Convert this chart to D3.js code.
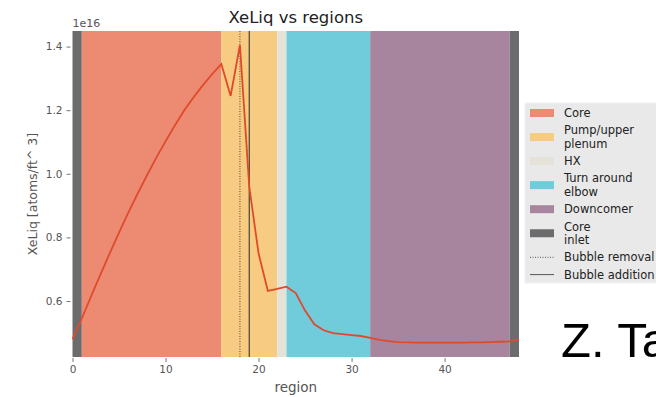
<!DOCTYPE html>
<html>
<head>
<meta charset="utf-8">
<script src="https://cdn.jsdelivr.net/npm/d3@7"></script>
<style>
  body { margin: 0; background: #fff; }
  svg { display: block; }
  text { font-family: "DejaVu Sans", sans-serif; }
</style>
</head>
<body>
<svg></svg>
<script>
// data (XeLiq in units of 1e16 atoms/ft^3)
var regionIdx = d3.range(0, 49)
var xeliq = [0.480, 0.545, 0.615, 0.683, 0.750, 0.815, 0.878, 0.938, 0.995, 1.050,
             1.102, 1.152, 1.199, 1.240, 1.278, 1.313, 1.345, 1.245, 1.405, 0.960,
             0.750, 0.632, 0.638, 0.645, 0.625, 0.570, 0.527, 0.508, 0.499, 0.496,
             0.493, 0.490, 0.484, 0.478, 0.474, 0.471, 0.470, 0.469, 0.469, 0.469,
             0.469, 0.469, 0.469, 0.470, 0.470, 0.471, 0.472, 0.473, 0.479]

var bandStart = [0, 1, 16, 22, 23, 32, 47]
var bandEnd   = [1, 16, 22, 23, 32, 47, 48]
var bandType  = ["Core inlet", "Core", "Pump/upper plenum", "HX", "Turn around elbow", "Downcomer", "Core inlet"]

var legendTypes = ["Core", "Pump/upper plenum", "HX", "Turn around elbow", "Downcomer", "Core inlet"]
var legendLabels = [["Core"], ["Pump/upper", "plenum"], ["HX"], ["Turn around", "elbow"], ["Downcomer"], ["Core", "inlet"]]

var bubbleRemoval = 18
var bubbleAddition = 19

var xTicks = [0, 10, 20, 30, 40]
var yTicks = [0.6, 0.8, 1.0, 1.2, 1.4]

var screen = {width: 656, height: 397}
var plot = {left: 72.5, right: 519, top: 31, bottom: 357}

var color = d3.scaleOrdinal()
  .domain(legendTypes)
  .range(["#ec8a72", "#f7cb82", "#e5e2d8", "#70cbda", "#a8859f", "#6c6c6e"])

var svg = d3.select("svg")
  .attr("width", screen.width)
  .attr("height", screen.height)

var xScale = d3.scaleLinear().domain([0, 48]).range([plot.left, plot.right])
var yScale = d3.scaleLinear().domain([0.424, 1.449]).range([plot.bottom, plot.top])

// region bands
svg.append("g").selectAll("rect")
  .data(bandType)
  .enter().append("rect")
  .attr("x", function(d, i) { return xScale(bandStart[i]) })
  .attr("width", function(d, i) { return xScale(bandEnd[i]) - xScale(bandStart[i]) })
  .attr("y", plot.top)
  .attr("height", plot.bottom - plot.top)
  .attr("fill", function(d) { return color(d) })

// bubble lines
svg.append("line")
  .attr("x1", xScale(bubbleRemoval)).attr("x2", xScale(bubbleRemoval))
  .attr("y1", plot.top).attr("y2", plot.bottom)
  .attr("stroke", "#4a4a3a").attr("stroke-width", 1)
  .attr("stroke-dasharray", "1,1.5")
svg.append("line")
  .attr("x1", xScale(bubbleAddition)).attr("x2", xScale(bubbleAddition))
  .attr("y1", plot.top).attr("y2", plot.bottom)
  .attr("stroke", "#3a3a30").attr("stroke-width", 1.1)

// data line
var line = d3.line()
  .x(function(d, i) { return xScale(regionIdx[i]) })
  .y(function(d) { return yScale(d) })
svg.append("path")
  .datum(xeliq)
  .attr("d", line)
  .attr("fill", "none")
  .attr("stroke", "#e04a2c")
  .attr("stroke-width", 1.8)

// axes
var xAxis = d3.axisBottom(xScale).tickValues(xTicks).tickFormat(d3.format("d")).tickSize(4).tickPadding(4)
var yAxis = d3.axisLeft(yScale).tickValues(yTicks).tickFormat(d3.format(".1f")).tickSize(4).tickPadding(4)

var gx = svg.append("g")
  .attr("transform", "translate(0," + plot.bottom + ")")
  .call(xAxis)
var gy = svg.append("g")
  .attr("transform", "translate(" + (plot.left - 2) + ",0)")
  .call(yAxis)
gx.attr("transform", "translate(0," + (plot.bottom + 1) + ")")
;[gx, gy].forEach(function(g) {
  g.select(".domain").remove()
  g.selectAll(".tick line").attr("stroke", "#777")
  g.selectAll(".tick text").attr("fill", "#555").style("font-size", "10.5px").style("font-family", "DejaVu Sans")
})

// titles
svg.append("text")
  .attr("x", (plot.left + plot.right) / 2).attr("y", 23)
  .attr("text-anchor", "middle")
  .style("font-size", "16.5px").attr("fill", "#222")
  .text("XeLiq vs regions")
svg.append("text")
  .attr("x", plot.left).attr("y", 27)
  .style("font-size", "11px").attr("fill", "#555")
  .text("1e16")
svg.append("text")
  .attr("x", (plot.left + plot.right) / 2).attr("y", 392)
  .attr("text-anchor", "middle")
  .style("font-size", "13.5px").attr("fill", "#555")
  .text("region")
svg.append("text")
  .attr("transform", "translate(37," + ((plot.top + plot.bottom) / 2) + ") rotate(-90)")
  .attr("text-anchor", "middle")
  .style("font-size", "12.5px").attr("fill", "#555")
  .text("XeLiq [atoms/ft^ 3]")

// legend
var legend = svg.append("g")
legend.append("rect")
  .attr("x", 525).attr("y", 103).attr("width", 140).attr("height", 180)
  .attr("fill", "#e9e9e9").attr("stroke", "#f2f2f2")

var lineH = 13.5, gap = 3.8
var yy = 113
var items = legendLabels.map(function(l, i) { return {lines: l, type: "patch", key: legendTypes[i]} })
items.push({lines: ["Bubble removal"], type: "dotted"})
items.push({lines: ["Bubble addition"], type: "solid"})
items.forEach(function(it) {
  var mid = yy + (it.lines.length - 1) * lineH / 2
  if (it.type === "patch") {
    legend.append("rect").attr("x", 530).attr("y", mid - 4).attr("width", 24).attr("height", 8)
      .attr("fill", color(it.key))
  } else {
    legend.append("line").attr("x1", 530).attr("x2", 554).attr("y1", mid).attr("y2", mid)
      .attr("stroke", "#555").attr("stroke-width", 1)
      .attr("stroke-dasharray", it.type === "dotted" ? "1,1.5" : null)
  }
  it.lines.forEach(function(t, j) {
    legend.append("text").attr("x", 564).attr("y", yy + j * lineH)
      .attr("dy", "0.35em")
      .style("font-size", "11.5px").attr("fill", "#222")
      .text(t)
  })
  yy += it.lines.length * lineH + gap
})

// footer author text
svg.append("text")
  .attr("x", 561).attr("y", 357)
  .style("font-family", "Liberation Sans, Arial, sans-serif")
  .style("font-size", "49px").attr("fill", "#000")
  .text("Z. Ta")
</script>
</body>
</html>
